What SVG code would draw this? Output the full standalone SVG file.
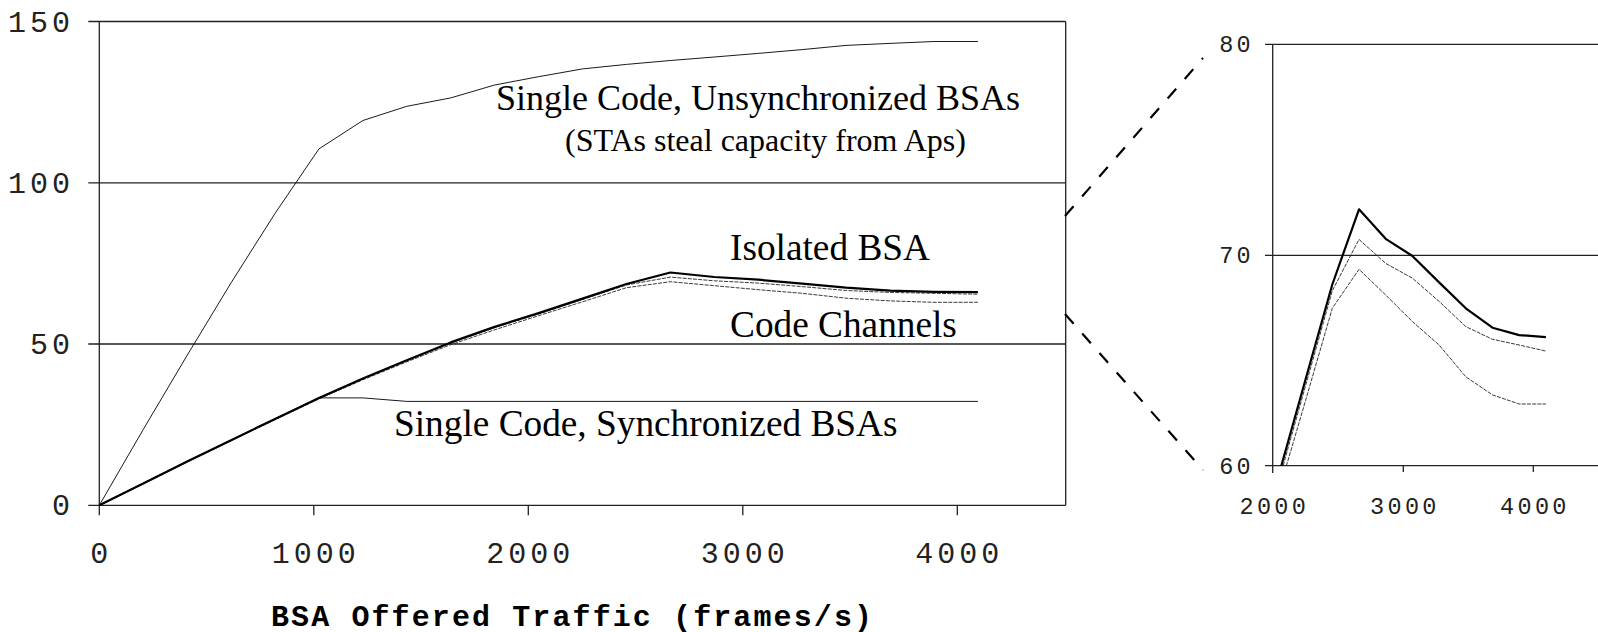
<svg xmlns="http://www.w3.org/2000/svg" width="1598" height="632" viewBox="0 0 1598 632">
<style>
.grid{stroke:#222;stroke-width:1.3;fill:none}
.tick{font-family:"Liberation Mono",monospace;fill:#222}
.main-tick{font-size:30px;letter-spacing:4px}
.small-tick{font-size:23.5px;letter-spacing:3.3px}
.lbl{font-family:"Liberation Serif","Times New Roman",serif;fill:#000}
.thick{stroke:#000;stroke-width:2.2;fill:none;stroke-linejoin:round}
.thin{stroke:#000;stroke-width:0.9;fill:none;stroke-linejoin:round}
.dash{stroke:#222;stroke-width:0.9;fill:none;stroke-dasharray:4 1.2}
.zoomline{stroke:#000;stroke-width:2.2;fill:none;stroke-dasharray:13 13}
</style>
<defs>
<clipPath id="smallclip"><rect x="1272.7" y="44.3" width="326" height="421.4"/></clipPath>
</defs>
<rect width="1598" height="632" fill="#fff"/>

<g id="main-axes">
<path class="grid" d="M88.3 21.5H1065.7M88.3 182.8H1065.7M88.3 344H1065.7M88.3 505.3H1065.7M99.3 21.5V515.3M1065.7 21.5V505.3"/>
<path class="grid" d="M313.8 505.3V515.3M528.3 505.3V515.3M742.8 505.3V515.3M957.3 505.3V515.3"/>
<g class="tick main-tick" text-anchor="end">
<text x="74" y="31.5">150</text>
<text x="74" y="192.8">100</text>
<text x="74" y="354">50</text>
<text x="74" y="515.3">0</text>
</g>
<g class="tick main-tick" text-anchor="middle">
<text x="101.3" y="563">0</text>
<text x="315.8" y="563">1000</text>
<text x="530.3" y="563">2000</text>
<text x="744.8" y="563">3000</text>
<text x="959.3" y="563">4000</text>
</g>
<text x="271" y="625.5" font-family="Liberation Mono,monospace" font-weight="bold" font-size="30" letter-spacing="2.1" fill="#000">BSA Offered Traffic (frames/s)</text>
</g>

<g id="main-series">
<polyline id="lower-main" class="dash" points="99.3,505.3 143.23,483.7 187.16,462.1 231.09,440.8 275.02,419.8 318.95,398.9 362.88,379.8 406.81,361.8 450.74,344.7 494.67,329.8 538.6,315.7 582.53,301.8 626.46,287.7 670.39,281.7 714.32,285.7 758.25,289.7 802.18,293.3 846.11,298.2 890.04,300.9 933.97,302.3 977.9,302.3"/>
<polyline id="middle-main" class="dash" points="99.3,505.3 143.23,483.4 187.16,461.4 231.09,440.2 275.02,418.9 318.95,397.9 362.88,378.9 406.81,360.5 450.74,343.1 494.67,327.6 538.6,314.0 582.53,299.5 626.46,285.0 670.39,277.1 714.32,280.8 758.25,283.1 802.18,286.6 846.11,290.5 890.04,292.4 933.97,293.3 977.9,294.2"/>
<polyline id="isolated-main" class="thick" points="99.3,505.3 143.23,483.4 187.16,461.4 231.09,440.2 275.02,418.9 318.95,397.9 362.88,378.5 406.81,360.2 450.74,342.4 494.67,326.9 538.6,313.1 582.53,298.6 626.46,284.0 670.39,272.5 714.32,277.0 758.25,279.7 802.18,283.7 846.11,287.7 890.04,290.7 933.97,291.8 977.9,292.1"/>
<polyline id="unsync-main" class="thin" points="99.3,505.3 143.23,429.5 187.16,355.3 231.09,282.8 275.02,213.4 318.95,148.9 362.88,120.5 406.81,106.3 450.74,97.9 494.67,85.0 538.6,76.7 582.53,68.9 626.46,64.4 670.39,60.5 714.32,57.0 758.25,53.4 802.18,49.6 846.11,45.4 890.04,43.4 933.97,41.5 977.9,41.5"/>
<polyline id="sync-main" class="thin" points="99.3,505.3 143.23,483.4 187.16,461.4 231.09,440.2 275.02,418.9 318.95,397.9 362.88,397.9 406.81,401.4 977.9,401.4"/>
</g>

<g id="main-labels">
<text class="lbl" x="496" y="110" font-size="36">Single Code, Unsynchronized BSAs</text>
<text class="lbl" x="565" y="151" font-size="32">(STAs steal capacity from Aps)</text>
<text class="lbl" x="730" y="260" font-size="37.3">Isolated BSA</text>
<text class="lbl" x="730" y="337" font-size="37.3">Code Channels</text>
<text class="lbl" x="394" y="436" font-size="37.3">Single Code, Synchronized BSAs</text>
</g>

<g id="connectors">
<line class="zoomline" x1="1065" y1="216" x2="1203" y2="58"/>
<line class="zoomline" x1="1065" y1="314" x2="1203" y2="470"/>
</g>

<g id="zoom-axes">
<path class="grid" d="M1265 44.3H1598M1265 255.3H1598M1265 465.7H1598M1272.7 44.3V473M1403.3 465.7V472M1533.3 465.7V472"/>
<g class="tick small-tick" text-anchor="end">
<text x="1254" y="52.3">80</text>
<text x="1254" y="263.3">70</text>
<text x="1254" y="473.7">60</text>
</g>
<g class="tick small-tick" text-anchor="middle">
<text x="1274.3" y="514">2000</text>
<text x="1404.9" y="514">3000</text>
<text x="1534.9" y="514">4000</text>
</g>
</g>

<g id="zoom-series" clip-path="url(#smallclip)">
<polyline id="lower-zoom" class="dash" points="1279.0,491.0 1305.6,400.4 1332.3,308.3 1359.0,269.3 1385.7,295.0 1412.4,321.6 1439.1,345.0 1465.8,376.8 1492.5,394.9 1519.2,404.0 1545.9,404.0"/>
<polyline id="middle-zoom" class="dash" points="1279.0,480.5 1305.6,385.6 1332.3,290.8 1359.0,239.4 1385.7,263.4 1412.4,278.2 1439.1,301.4 1465.8,326.6 1492.5,339.3 1519.2,345.0 1545.9,351.1"/>
<polyline id="isolated-zoom" class="thick" points="1279.0,474.1 1305.6,379.3 1332.3,284.5 1359.0,209.3 1385.7,238.8 1412.4,256.0 1439.1,282.4 1465.8,308.3 1492.5,327.7 1519.2,335.1 1545.9,337.2"/>
</g>
</svg>
